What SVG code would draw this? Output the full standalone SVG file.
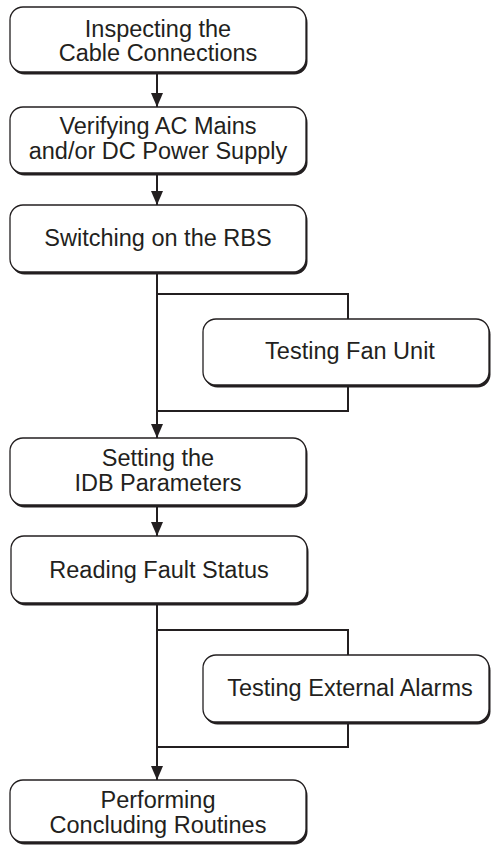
<svg xmlns="http://www.w3.org/2000/svg" width="491" height="846" viewBox="0 0 491 846">
<style>
.sh{fill:#231f20}
.bx{fill:#fff;stroke:#231f20;stroke-width:1.3}
.t{font-family:"Liberation Sans",Arial,sans-serif;font-size:23.5px;fill:#231f20;text-anchor:middle}
.ln{fill:none;stroke:#231f20;stroke-width:2}
</style>
<defs>
<marker id="ah" markerWidth="14" markerHeight="12" refX="14" refY="6" orient="auto" markerUnits="userSpaceOnUse" viewBox="0 0 14 12">
<path d="M0,0 L14,6 L0,12 Z" fill="#231f20"/>
</marker>
</defs>
<g id="connectors">
<line class="ln" x1="157" y1="72" x2="157" y2="107" marker-end="url(#ah)"/>
<line class="ln" x1="157" y1="173" x2="157" y2="205" marker-end="url(#ah)"/>
<line class="ln" x1="157" y1="272" x2="157" y2="438" marker-end="url(#ah)"/>
<polyline class="ln" points="157,294 348,294 348,319"/>
<polyline class="ln" points="348,385 348,411 157,411"/>
<line class="ln" x1="157" y1="505" x2="157" y2="536" marker-end="url(#ah)"/>
<line class="ln" x1="157" y1="603" x2="157" y2="780" marker-end="url(#ah)"/>
<polyline class="ln" points="157,630 348,630 348,655"/>
<polyline class="ln" points="348,722 348,747 157,747"/>
</g>
<g id="n1">
<rect class="sh" x="11.5" y="9.5" width="296" height="65" rx="13"/>
<rect class="bx" x="10" y="7" width="296" height="65" rx="13"/>
<text class="t" x="158" y="37">Inspecting the</text>
<text class="t" x="158" y="61">Cable Connections</text>
</g>
<g id="n2">
<rect class="sh" x="11.5" y="109.5" width="296" height="66" rx="13"/>
<rect class="bx" x="10" y="107" width="296" height="66" rx="13"/>
<text class="t" x="158" y="134">Verifying AC Mains</text>
<text class="t" x="158" y="159">and/or DC Power Supply</text>
</g>
<g id="n3">
<rect class="sh" x="11.5" y="207.5" width="296" height="67" rx="13"/>
<rect class="bx" x="10" y="205" width="296" height="67" rx="13"/>
<text class="t" x="158" y="246">Switching on the RBS</text>
</g>
<g id="n_fan">
<rect class="sh" x="204.5" y="321.5" width="286" height="66" rx="13"/>
<rect class="bx" x="203" y="319" width="286" height="66" rx="13"/>
<text class="t" x="350" y="359">Testing Fan Unit</text>
</g>
<g id="n4">
<rect class="sh" x="11.5" y="440.5" width="296" height="67" rx="13"/>
<rect class="bx" x="10" y="438" width="296" height="67" rx="13"/>
<text class="t" x="158" y="466">Setting the</text>
<text class="t" x="158" y="491">IDB Parameters</text>
</g>
<g id="n5">
<rect class="sh" x="12.5" y="538.5" width="296" height="67" rx="13"/>
<rect class="bx" x="11" y="536" width="296" height="67" rx="13"/>
<text class="t" x="159" y="578">Reading Fault Status</text>
</g>
<g id="n_alarms">
<rect class="sh" x="204.5" y="657.5" width="286" height="67" rx="13"/>
<rect class="bx" x="203" y="655" width="286" height="67" rx="13"/>
<text class="t" x="350" y="696">Testing External Alarms</text>
</g>
<g id="n6">
<rect class="sh" x="11.5" y="782.5" width="296" height="62" rx="13"/>
<rect class="bx" x="10" y="780" width="296" height="62" rx="13"/>
<text class="t" x="158" y="808">Performing</text>
<text class="t" x="158" y="833">Concluding Routines</text>
</g>
</svg>
